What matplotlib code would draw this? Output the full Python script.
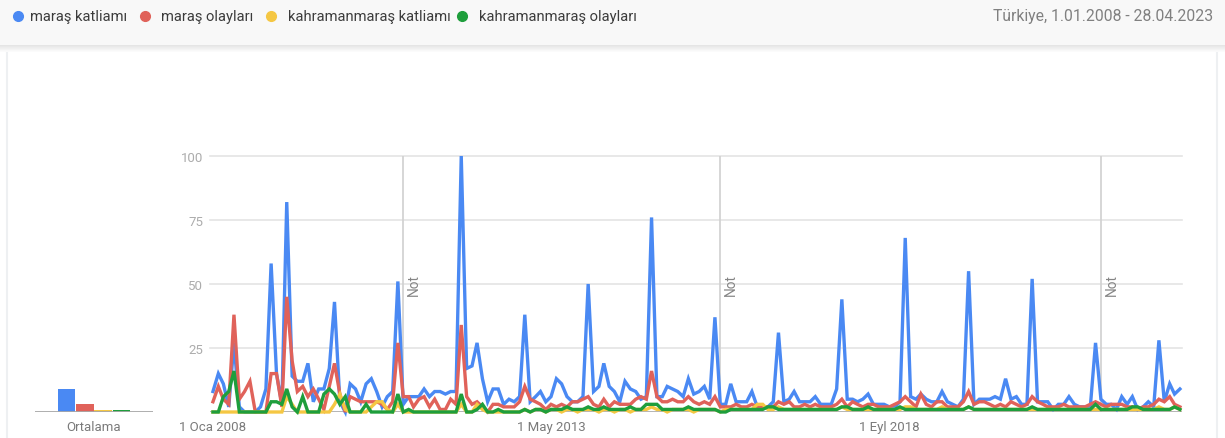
import numpy as np
import pandas as pd
import matplotlib
matplotlib.use('Agg')
import matplotlib.pyplot as plt
from matplotlib.lines import Line2D
from matplotlib.patches import Rectangle

plt.rcParams['font.family'] = ['Roboto', 'DejaVu Sans']

# ---- data (monthly, Jan 2008 - Apr 2023) ----
series_names = ['maraş katliamı', 'maraş olayları', 'kahramanmaraş katliamı', 'kahramanmaraş olayları']
months = pd.date_range('2008-01-01', '2023-04-01', freq='MS')

maras_katliami = [
    8, 15, 11, 2, 27, 2, 0, 0, 0, 2, 9, 58,
    15, 3, 82, 14, 12, 12, 19, 4, 9, 9, 17, 43,
    4, 0, 11, 9, 4, 11, 13, 8, 2, 6, 8, 51,
    3, 6, 6, 6, 9, 6, 8, 8, 7, 8, 8, 100,
    17, 18, 27, 13, 4, 9, 9, 3, 5, 4, 6, 38,
    4, 6, 8, 4, 6, 13, 11, 6, 4, 4, 6, 50,
    8, 10, 19, 10, 8, 4, 12, 9, 8, 5, 6, 76,
    6, 6, 10, 9, 8, 6, 13, 7, 8, 10, 5, 37,
    3, 3, 11, 4, 4, 4, 8, 2, 2, 2, 4, 31,
    4, 5, 8, 4, 4, 4, 6, 3, 3, 3, 9, 44,
    5, 5, 4, 5, 7, 3, 3, 3, 2, 2, 4, 68,
    6, 5, 7, 5, 4, 4, 8, 4, 3, 2, 5, 55,
    3, 5, 5, 5, 6, 5, 13, 5, 6, 3, 3, 52,
    4, 4, 4, 1, 3, 3, 6, 3, 2, 2, 2, 27,
    5, 3, 3, 1, 6, 3, 6, 1, 2, 4, 2, 28,
    4, 11, 7, 9,
]
maras_olaylari = [
    4, 10, 5, 3, 38, 5, 8, 12, 0, 0, 0, 15,
    15, 2, 45, 20, 8, 10, 6, 9, 5, 1, 10, 19,
    7, 0, 6, 5, 4, 4, 4, 4, 3, 1, 4, 27,
    6, 6, 2, 5, 6, 2, 5, 1, 1, 5, 3, 34,
    6, 3, 4, 2, 0, 3, 3, 2, 2, 2, 4, 10,
    5, 4, 3, 1, 3, 2, 3, 2, 4, 4, 5, 6,
    3, 2, 5, 2, 4, 3, 3, 3, 5, 6, 5, 16,
    6, 4, 4, 5, 4, 4, 6, 4, 3, 4, 3, 6,
    2, 2, 2, 3, 2, 2, 3, 2, 2, 2, 2, 4,
    3, 4, 2, 2, 3, 2, 3, 2, 2, 2, 3, 5,
    2, 4, 3, 2, 3, 3, 2, 2, 2, 3, 4, 6,
    4, 2, 7, 3, 2, 4, 4, 2, 2, 2, 4, 8,
    3, 4, 4, 3, 2, 3, 2, 4, 3, 2, 3, 6,
    4, 3, 2, 2, 2, 3, 2, 2, 2, 2, 3, 4,
    3, 2, 3, 3, 3, 2, 2, 1, 2, 2, 3, 5,
    4, 6, 3, 2,
]
kahramanmaras_katliami = [
    0, 0, 0, 0, 0, 0, 0, 0, 0, 0, 0, 0,
    0, 0, 6, 3, 0, 0, 0, 0, 0, 0, 0, 3,
    7, 1, 0, 0, 0, 0, 2, 4, 4, 1, 0, 3,
    0, 0, 0, 0, 0, 0, 0, 0, 0, 0, 0, 3,
    0, 0, 3, 1, 0, 0, 0, 0, 0, 0, 0, 1,
    0, 1, 1, 0, 1, 1, 0, 1, 1, 0, 1, 1,
    1, 0, 1, 1, 0, 1, 1, 0, 1, 1, 1, 2,
    1, 1, 0, 1, 1, 1, 1, 0, 1, 1, 1, 1,
    0, 1, 1, 1, 1, 1, 1, 3, 3, 1, 1, 2,
    1, 1, 1, 1, 1, 1, 1, 1, 1, 1, 1, 2,
    1, 1, 1, 1, 1, 1, 1, 1, 1, 1, 1, 2,
    2, 1, 1, 1, 1, 1, 2, 1, 1, 1, 1, 2,
    1, 1, 1, 1, 1, 1, 1, 1, 1, 1, 1, 1,
    1, 1, 1, 1, 1, 1, 1, 1, 1, 1, 1, 1,
    1, 1, 1, 1, 1, 1, 1, 1, 1, 1, 1, 2,
    1, 1, 2, 1,
]
kahramanmaras_olaylari = [
    0, 0, 6, 8, 16, 0, 0, 0, 0, 0, 0, 4,
    4, 3, 9, 2, 0, 6, 0, 0, 0, 7, 9, 7,
    3, 6, 0, 0, 0, 3, 0, 0, 0, 0, 0, 7,
    0, 1, 0, 0, 0, 0, 0, 0, 0, 0, 0, 7,
    0, 0, 1, 3, 0, 0, 1, 0, 0, 0, 0, 1,
    0, 1, 1, 0, 1, 1, 1, 2, 1, 1, 1, 2,
    1, 1, 2, 1, 1, 1, 1, 2, 1, 1, 3, 3,
    3, 1, 1, 1, 1, 1, 2, 1, 1, 1, 1, 1,
    0, 0, 1, 1, 1, 1, 1, 1, 1, 2, 2, 1,
    1, 1, 1, 1, 1, 1, 1, 1, 1, 1, 1, 2,
    2, 1, 1, 1, 2, 1, 1, 1, 1, 1, 2, 1,
    1, 1, 1, 1, 1, 1, 1, 1, 1, 1, 1, 2,
    1, 1, 1, 1, 1, 1, 1, 1, 1, 1, 1, 2,
    1, 1, 1, 1, 1, 1, 1, 1, 1, 1, 1, 3,
    1, 1, 1, 1, 1, 1, 2, 2, 1, 1, 1, 1,
    1, 1, 2, 1,
]
averages = [9, 3, 0.6, 0.6]

tick_dates = ['2008-01-01', '2013-05-01', '2018-09-01']
tick_labels = ['1 Oca 2008', '1 May 2013', '1 Eyl 2018']
note_dates = ['2011-01-01', '2016-01-01', '2022-01-01']
region_text = 'Türkiye, 1.01.2008 - 28.04.2023'

colors = ['#4a89f3', '#e0625a', '#f5c743', '#1e9e3c']

W, H = 1225, 439
fig = plt.figure(figsize=(W / 100, H / 100), dpi=100)
fig.patch.set_facecolor('white')

def fpos(left, top, right, bottom):
	# pixel box -> figure fraction box
	return [left / W, 1 - bottom / H, (right - left) / W, (bottom - top) / H]

# ---- header with legend ----
hdr = fig.add_axes(fpos(0, 0, W, 56))
hdr.set_xlim(0, W)
hdr.set_ylim(56, 0)
hdr.patch.set_alpha(0)
hdr.set_xticks([])
hdr.set_yticks([])
for s in hdr.spines.values():
	s.set_visible(False)
hdr.add_patch(Rectangle((0, 0), W, 46, color='#f8f8f8', lw=0))
for k in range(7):
	hdr.add_patch(Rectangle((0, 46 + k), W, 1, color='#000000', alpha=0.10 * (1 - k / 7), lw=0))

dot_x = [18, 145, 271, 462]
text_x = [30, 161, 288, 479]
for name, c, dx, tx in zip(series_names, colors, dot_x, text_x):
	hdr.plot(dx, 17, 'o', ms=7, color=c, mec=c)
	hdr.text(tx, 17, name, fontsize=10.6, color='#3c3c3c', va='center', ha='left')
hdr.text(1213, 17, region_text, fontsize=11.3, color='#808080', va='center', ha='right')

# card borders
fig.add_artist(Line2D([7 / W, 7 / W], [0, 1 - 54 / H], color='#eef0f2', lw=1.5))
fig.add_artist(Line2D([1217 / W, 1217 / W], [0, 1 - 54 / H], color='#eef0f2', lw=1.5))

# ---- main time series ----
ax = fig.add_axes(fpos(210, 157, 1182, 413))
ax.set_xlim(months[0] - pd.Timedelta(days=17), months[-1] + pd.Timedelta(days=12))
ax.set_ylim(0, 100)
for s in ax.spines.values():
	s.set_visible(False)

for yv in [25, 50, 75, 100]:
	ax.axhline(yv, color='#e4e4e4', lw=1.2, zorder=0, clip_on=False)
ax.axhline(0, color='#a8a8a8', lw=1.2, zorder=1)

for nd in note_dates:
	d = pd.Timestamp(nd)
	ax.plot([d, d], [0, 100], color='#d0d0d0', lw=1.2, zorder=0)
	ax.text(d + pd.Timedelta(days=22), 50, 'Not', rotation=90, fontsize=9.8,
		color='#858585', ha='left', va='center')

all_series = [maras_katliami, maras_olaylari, kahramanmaras_katliami, kahramanmaras_olaylari]
for vals, c, z in zip(all_series, colors, [2, 3, 4, 5]):
	ax.plot(months, vals, color=c, lw=2.4, zorder=z, clip_on=False, solid_joinstyle='miter')

ax.set_xticks(pd.to_datetime(tick_dates))
ax.set_xticklabels(tick_labels)
ax.set_yticks([25, 50, 75, 100])
ax.set_yticklabels(['25', '50', '75', '100'])
ax.tick_params(axis='x', length=0, pad=6, labelsize=9.5, labelcolor='#7a7a7a')
ax.tick_params(axis='y', length=0, pad=5, labelsize=9.5, labelcolor='#acacac')

# ---- averages bar block ----
bx = fig.add_axes(fpos(35, 157, 153, 413))
bx.set_xlim(-1.72, 4.72)
bx.set_ylim(0, 100)
for s in bx.spines.values():
	s.set_visible(False)
bx.bar(range(4), averages, width=0.95, color=colors, zorder=2)
bx.axhline(0, color='#a8a8a8', lw=1.3, zorder=3)
bx.set_yticks([])
bx.set_xticks([1.5])
bx.set_xticklabels(['Ortalama'])
bx.tick_params(axis='x', length=0, pad=6, labelsize=9.5, labelcolor='#7a7a7a')

fig.savefig('out.png', dpi=100)
